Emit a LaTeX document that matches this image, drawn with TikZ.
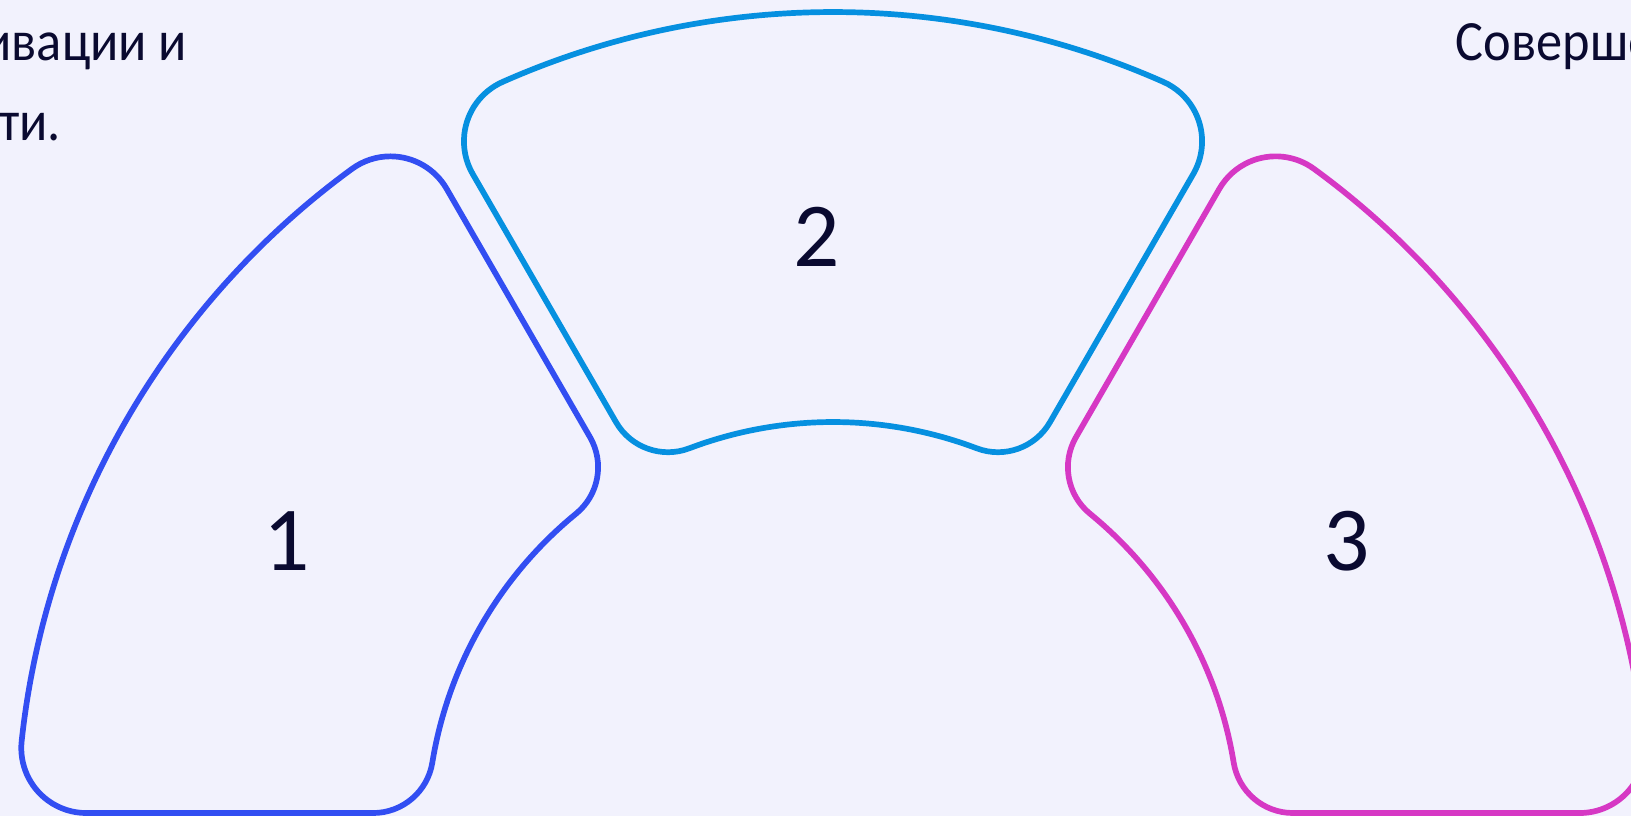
\documentclass[tikz,border=0pt]{standalone}
\usepackage{fontspec}
\setmainfont{Carlito}
\newfontfamily\narrowtext{Carlito}[FakeStretch=0.92]
\usetikzlibrary{calc}
\definecolor{bgpale}{RGB}{242,242,253}
\definecolor{partone}{RGB}{50,78,242}
\definecolor{parttwo}{RGB}{6,144,224}
\definecolor{partthree}{RGB}{214,56,196}
\definecolor{inkdark}{RGB}{10,10,48}
\def\ringgap{0.15}
\def\ringout{8.16}
\def\ringin{4.06}
\def\cornout{0.65}
\def\cornin{0.6}
\newcommand\ringpart[3]{%
  \pgfmathsetmacro\angout{asin((\ringgap+\cornout)/(\ringout-\cornout))}%
  \pgfmathsetmacro\angin{asin((\ringgap+\cornin)/(\ringin+\cornin))}%
  \pgfmathsetmacro\lenout{sqrt((\ringout-\cornout)^2-(\ringgap+\cornout)^2)}%
  \pgfmathsetmacro\lenin{sqrt((\ringin+\cornin)^2-(\ringgap+\cornin)^2)}%
  \draw[#3] ({#1+\angout}:\ringout)
    arc[start angle={#1+\angout}, end angle={#2-\angout}, radius=\ringout]
    arc[start angle={#2-\angout}, end angle={#2+90}, radius=\cornout]
    -- ({#2-atan(\ringgap/\lenin)}:{sqrt(\lenin^2+\ringgap^2)})
    arc[start angle={#2+90}, end angle={#2-\angin+180}, radius=\cornin]
    arc[start angle={#2-\angin}, end angle={#1+\angin}, radius=\ringin]
    arc[start angle={#1+\angin+180}, end angle={#1+270}, radius=\cornin]
    -- ({#1+atan(\ringgap/\lenout)}:{sqrt(\lenout^2+\ringgap^2)})
    arc[start angle={#1-90}, end angle={#1+\angout}, radius=\cornout]
    -- cycle;%
}

\begin{document}
\begin{tikzpicture}[line width=0.057cm, line join=round]
    \fill[bgpale] (0,0) rectangle (16.31,8.16);
    \useasboundingbox (0,0) rectangle (16.31,8.16);
    \clip (0,0) rectangle (16.31,8.16);
    \begin{scope}[shift={(8.33,-0.12)}]
        \ringpart{120}{180}{partone}
        \ringpart{60}{120}{parttwo}
        \ringpart{0}{60}{partthree}
    \end{scope}
    \node[inkdark, font=\fontsize{26}{31}\selectfont] (num1) at (2.87,2.75) {1};
    \node[inkdark, font=\fontsize{26}{31}\selectfont] (num2) at (8.17,5.79) {2};
    \node[inkdark, font=\fontsize{26}{31}\selectfont] (num3) at (13.47,2.75) {3};
    \node[inkdark, inner sep=0pt, anchor=base east, font=\narrowtext\fontsize{16.2}{19}\selectfont] (leftline1) at (1.90,7.56) {ивации и};
    \node[inkdark, inner sep=0pt, anchor=base east, font=\narrowtext\fontsize{16.2}{19}\selectfont] (leftline2) at (0.64,6.76) {сти.};
    \node[inkdark, inner sep=0pt, anchor=base west, font=\narrowtext\fontsize{16.2}{19}\selectfont] (rightline1) at (14.53,7.56) {Соверше};
\end{tikzpicture}
\end{document}
